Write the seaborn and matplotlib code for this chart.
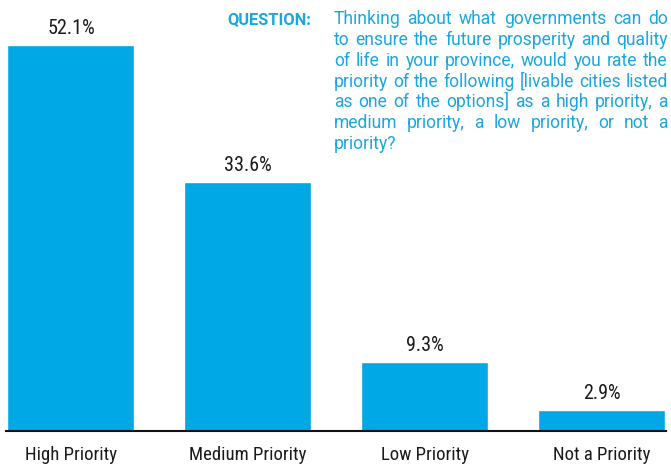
import matplotlib
matplotlib.use("Agg")
import matplotlib.pyplot as plt
from matplotlib import font_manager as fm
import pandas as pd
import seaborn as sns

# Survey results
categories = ["High Priority", "Medium Priority", "Low Priority", "Not a Priority"]
shares = [52.1, 33.6, 9.3, 2.9]
value_labels = ["52.1%", "33.6%", "9.3%", "2.9%"]

question_label = "QUESTION:"
question_lines = [
    "Thinking about what governments can do",
    "to ensure the future prosperity and quality",
    "of life in your province, would you rate the",
    "priority of the following [livable cities listed",
    "as one of the options] as a high priority, a",
    "medium priority, a low priority, or not a",
    "priority?",
]

W, H, DPI = 671, 468, 100
BAR = "#00A8E6"
TEXT_BLUE = "#1AA7E1"
DARK = "#1a1a1a"


def font_path(family, **kw):
    try:
        return fm.findfont(fm.FontProperties(family=family, **kw),
                           fallback_to_default=False)
    except ValueError:
        return None


def pick_narrow():
    """Return (family, stretch) of the narrowest sans face on the system."""
    for fam in ["Liberation Sans Narrow", "Roboto Condensed",
                "Open Sans Condensed", "Noto Sans Condensed"]:
        if font_path(fam):
            return fam, "normal", True
    p = font_path("DejaVu Sans", stretch="condensed")
    if p and "ondensed" in p:
        return "DejaVu Sans", "condensed", True
    return "Roboto", "normal", False


sns.set_theme(style="white")
NARROW_FAM, NARROW_STRETCH, HAVE_NARROW = pick_narrow()
NARROW = [NARROW_FAM, "DejaVu Sans"]
BODY = ["Roboto", "DejaVu Sans"]
plt.rcParams["font.family"] = NARROW

label_size = 13.5 if HAVE_NARROW else 12
value_size = 14.5 if HAVE_NARROW else 13.5

fig = plt.figure(figsize=(W / DPI, H / DPI), dpi=DPI)
fig.patch.set_facecolor("white")
ax = fig.add_axes([6 / W, 37 / H, 660 / W, 431 / H])

df = pd.DataFrame({"category": categories, "share": shares})
sns.barplot(data=df, x="category", y="share", color=BAR, saturation=1,
            width=0.718, ax=ax, zorder=2)

ax.set_xlim(-0.367, 3.362)
ax.set_ylim(0, 58.2)
ax.set_xlabel("")
ax.set_ylabel("")
ax.set_yticks([])
sns.despine(ax=ax, left=True, top=True, right=True)
ax.spines["bottom"].set_color("#111111")
ax.spines["bottom"].set_linewidth(1.5)
ax.spines["bottom"].set_zorder(3)
ax.tick_params(axis="x", length=0, pad=11, labelsize=label_size, labelcolor=DARK)
for lab in ax.get_xticklabels():
    lab.set_family(NARROW)
    lab.set_stretch(NARROW_STRETCH)

# value labels on top of each bar
for i, (v, txt) in enumerate(zip(shares, value_labels)):
    ax.annotate(txt, xy=(i, v), xytext=(0, 5), textcoords="offset points",
                ha="center", va="bottom", fontsize=value_size, color=DARK,
                family=NARROW, fontstretch=NARROW_STRETCH)

# question block, justified to the right margin
def to_fig(x, y):
    return x / W, 1 - y / H

left, right = 334, 668
base0, lead = 24.5, 20.7
renderer = fig.canvas.get_renderer()

# size the body text so the widest line just fits the column
probe = fig.text(0, 0, "", fontsize=10, family=BODY)
widest = 0
for line in question_lines:
    probe.set_text(line)
    widest = max(widest, probe.get_window_extent(renderer).width)
probe.remove()
body_size = min(10 * (right - left - 2) / widest, 13)

fig.text(*to_fig(227, base0), question_label, fontsize=body_size * 0.93,
         fontweight="bold", color=TEXT_BLUE, family=BODY, va="baseline")

space_probe = fig.text(0, 0, "a a", fontsize=body_size, family=BODY)
aa = space_probe.get_window_extent(renderer).width
space_probe.set_text("aa")
space_w = aa - space_probe.get_window_extent(renderer).width
space_probe.remove()

for k, line in enumerate(question_lines):
    y = base0 + k * lead
    words = line.split()
    items = [fig.text(0, 0, w, fontsize=body_size, color=TEXT_BLUE,
                      family=BODY, va="baseline") for w in words]
    widths = [t.get_window_extent(renderer).width for t in items]
    if k < len(question_lines) - 1 and len(words) > 1:
        gap = (right - left - sum(widths)) / (len(words) - 1)
    else:
        gap = space_w
    x = left
    for t, w in zip(items, widths):
        t.set_position(to_fig(x, y))
        x += w + gap

fig.savefig("out.png", dpi=DPI, facecolor="white")
